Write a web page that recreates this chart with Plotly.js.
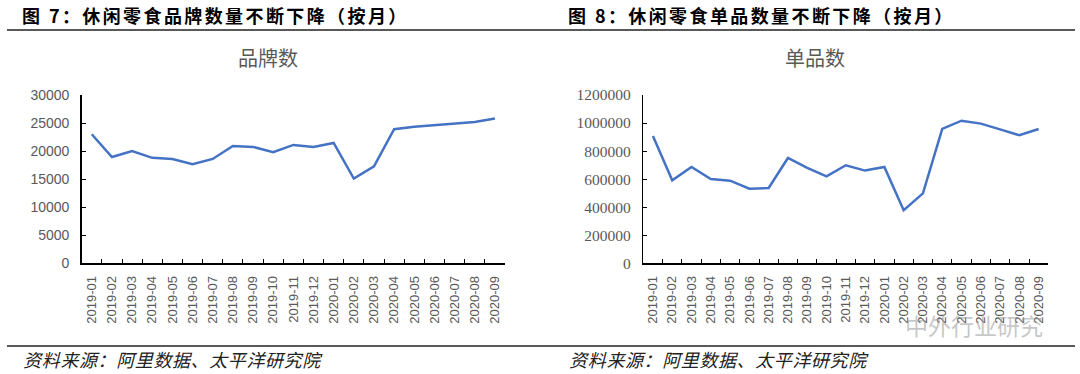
<!DOCTYPE html>
<html>
<head>
<meta charset="utf-8">
<script src="https://cdn.plot.ly/plotly-3.0.1.min.js"></script>
<style>
html,body{margin:0;padding:0;background:#fff;}
#chart{width:1080px;height:374px;}
.annotation[data-index="0"] text, .annotation[data-index="1"] text {letter-spacing:2.4px;}
.annotation[data-index="4"] text, .annotation[data-index="5"] text {letter-spacing:0.6px;}
</style>
</head>
<body>
<div id="chart"></div>
<script>
const months = ["2019-01","2019-02","2019-03","2019-04","2019-05","2019-06","2019-07","2019-08","2019-09","2019-10","2019-11","2019-12","2020-01","2020-02","2020-03","2020-04","2020-05","2020-06","2020-07","2020-08","2020-09"];
const brandCount = [23000,18950,20000,18800,18600,17650,18600,20900,20750,19800,21100,20750,21450,15100,17300,23900,24350,24600,24900,25200,25800];
const skuCount = [908000,592000,687000,601000,589000,532000,537000,751000,680000,620000,699000,661000,687000,378000,499000,958000,1017000,996000,955000,913000,958000];
const brandTicks = [0,5000,10000,15000,20000,25000,30000];
const skuTicks = [0,200000,400000,600000,800000,1000000,1200000];

const headerLeft = "图 7：休闲零食品牌数量不断下降（按月）";
const headerRight = "图 8：休闲零食单品数量不断下降（按月）";
const titleLeft = "品牌数";
const titleRight = "单品数";
const source = "资料来源：阿里数据、太平洋研究院";
const watermark = "中外行业研究";

const lineColor = "#4472C4";
const gray = "#595959";
const H = 374, W = 1080;
const py = v => (H - v) / H;
const px = v => v / W;

const traces = [
  {x: months, y: brandCount, type: "scatter", mode: "lines", xaxis: "x", yaxis: "y",
   line: {color: lineColor, width: 2.5}, hoverinfo: "skip"},
  {x: months, y: skuCount, type: "scatter", mode: "lines", xaxis: "x2", yaxis: "y2",
   line: {color: lineColor, width: 2.5}, hoverinfo: "skip"}
];

const xCommon = {
  type: "category", range: [-0.5, 20.5], showline: true, linecolor: "#000", linewidth: 1.5,
  ticks: "inside", ticklen: 4, tickwidth: 1, tickcolor: "#000", tickson: "boundaries",
  tickangle: -90, tickfont: {family: "Liberation Sans, Arial, sans-serif", size: 13, color: gray},
  showgrid: false, zeroline: false, fixedrange: true, ticklabelstandoff: 6
};
const yCommon = {
  showline: true, linecolor: "#000", linewidth: 1.5, ticks: "inside", ticklen: 4,
  tickwidth: 1, tickcolor: "#000", showgrid: false, zeroline: false, fixedrange: true,
  tickmode: "array", ticklabelstandoff: 8
};

const layout = {
  width: W, height: H, margin: {l: 0, r: 0, t: 0, b: 0},
  paper_bgcolor: "#fff", plot_bgcolor: "#fff", showlegend: false,
  xaxis: Object.assign({}, xCommon, {domain: [px(81.7), px(505)], anchor: "y"}),
  yaxis: Object.assign({}, yCommon, {domain: [py(263.3), py(95)], anchor: "x", range: [0, 30000],
    tickvals: brandTicks, ticktext: brandTicks.map(String),
    tickfont: {family: "Liberation Sans, Arial, sans-serif", size: 14, color: gray}}),
  xaxis2: Object.assign({}, xCommon, {domain: [px(643.3), px(1048.3)], anchor: "y2"}),
  yaxis2: Object.assign({}, yCommon, {domain: [py(263.3), py(95)], anchor: "x2", range: [0, 1200000],
    tickvals: skuTicks, ticktext: skuTicks.map(String),
    tickfont: {family: "Liberation Serif, Times New Roman, serif", size: 15.5, color: gray}}),
  shapes: [
    {type: "line", xref: "paper", yref: "paper", x0: px(7), x1: px(1075), y0: py(30), y1: py(30),
     line: {color: "#222", width: 1.5}},
    {type: "line", xref: "paper", yref: "paper", x0: px(7), x1: px(1075), y0: py(346), y1: py(346),
     line: {color: "#222", width: 1.5}}
  ],
  annotations: [
    {text: "<b>" + headerLeft + "</b>", xref: "paper", yref: "paper", x: px(44), y: py(15),
     xanchor: "left", yanchor: "middle", showarrow: false,
     font: {family: "Noto Sans CJK SC, sans-serif", size: 18, color: "#000"}},
    {text: "<b>" + headerRight + "</b>", xref: "paper", yref: "paper", x: px(590), y: py(15),
     xanchor: "left", yanchor: "middle", showarrow: false,
     font: {family: "Noto Sans CJK SC, sans-serif", size: 18, color: "#000"}},
    {text: titleLeft, xref: "paper", yref: "paper", x: px(268), y: py(58),
     xanchor: "center", yanchor: "middle", showarrow: false,
     font: {family: "Noto Sans CJK SC, sans-serif", size: 20, color: gray}},
    {text: titleRight, xref: "paper", yref: "paper", x: px(815), y: py(58),
     xanchor: "center", yanchor: "middle", showarrow: false,
     font: {family: "Noto Sans CJK SC, sans-serif", size: 20, color: gray}},
    {text: "<i>" + source + "</i>", xref: "paper", yref: "paper", x: px(26), y: py(359),
     xanchor: "left", yanchor: "middle", showarrow: false,
     font: {family: "Noto Sans CJK SC, sans-serif", size: 18, color: "#222"}},
    {text: "<i>" + source + "</i>", xref: "paper", yref: "paper", x: px(572), y: py(359),
     xanchor: "left", yanchor: "middle", showarrow: false,
     font: {family: "Noto Sans CJK SC, sans-serif", size: 18, color: "#222"}},
    {text: watermark, xref: "paper", yref: "paper", x: px(1045), y: py(325),
     xanchor: "right", yanchor: "middle", showarrow: false,
     font: {family: "Noto Sans CJK SC, sans-serif", size: 23, color: "rgba(150,150,150,0.55)"}}
  ]
};

Plotly.newPlot("chart", traces, layout, {staticPlot: true, displayModeBar: false});
</script>
</body>
</html>
